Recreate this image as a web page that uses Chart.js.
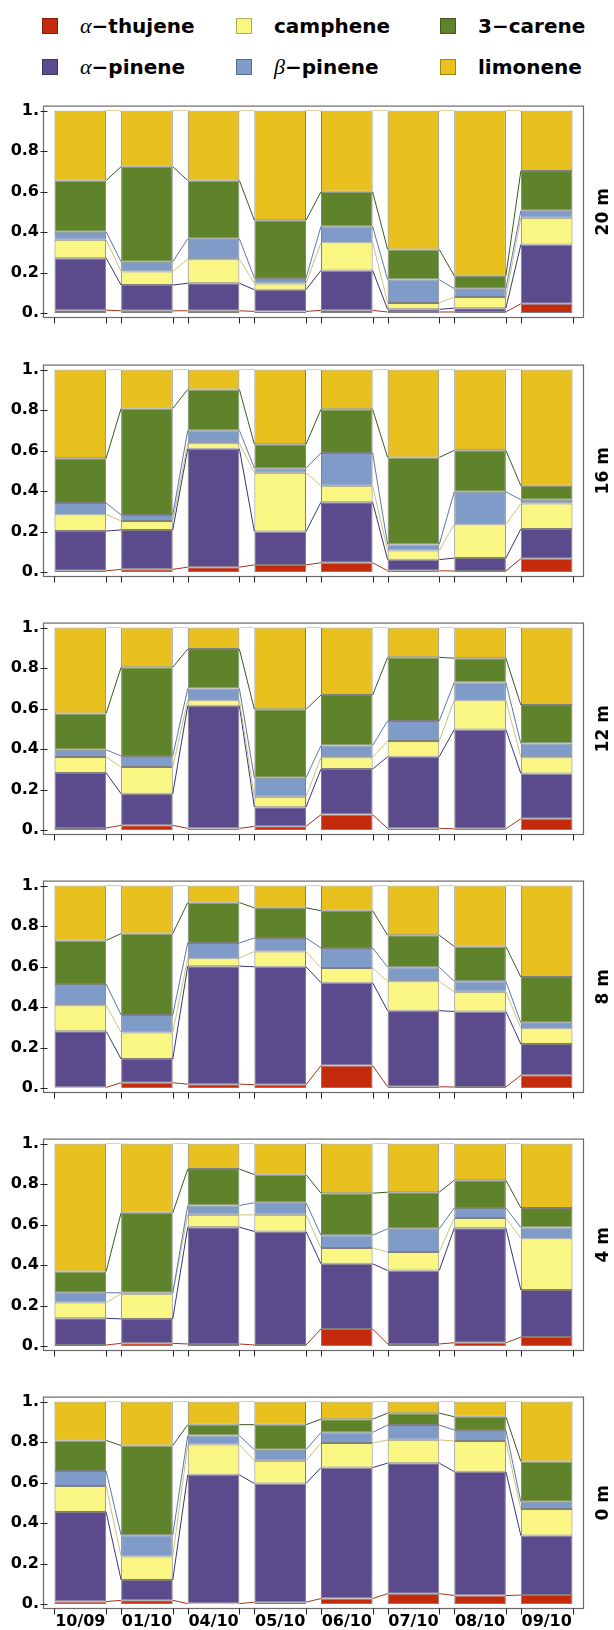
<!DOCTYPE html>
<html lang="en">
<head>
    <meta charset="UTF-8">
    <title>Monoterpene fractions by depth</title>
    <script src="https://cdn.jsdelivr.net/npm/chart.js"></script>
    <style>
        body { margin: 0; background: white; }
        #page { position: relative; width: 614px; height: 1630px; overflow: hidden; }
        #page canvas { position: absolute; left: 0; }
        .legend-item {
            position: absolute; height: 20px; display: flex; align-items: center;
            font-family: "DejaVu Sans", sans-serif; font-weight: bold; font-size: 20px;
            color: #000; white-space: nowrap;
        }
        .swatch { width: 16px; height: 16px; box-sizing: border-box; border: 1px solid rgba(0,0,0,.3); margin-right: 22px; }
        .greek { font-family: "Liberation Serif", serif; font-style: italic; font-weight: normal; font-size: 22px; }
    </style>
</head>
<body>
<div id="page"></div>

<script>
    // sampling dates and depths (panels top to bottom)
    const dates = ['10/09', '01/10', '04/10', '05/10', '06/10', '07/10', '08/10', '09/10'];
    const depths = ['20 m', '16 m', '12 m', '8 m', '4 m', '0 m'];
    const species = ['α−thujene', 'α−pinene', 'camphene', 'β−pinene', '3−carene', 'limonene'];
    const yTicks = [0, 0.2, 0.4, 0.6, 0.8, 1];

    // fractions, one row per depth (20 m first)
    const aThujene = [
        [0.014, 0.011, 0.011, 0.008, 0.013, 0.005, 0.005, 0.046],
        [0.006, 0.013, 0.024, 0.035, 0.046, 0.006, 0.005, 0.066],
        [0.010, 0.023, 0.008, 0.018, 0.076, 0.008, 0.006, 0.056],
        [0.003, 0.026, 0.019, 0.016, 0.111, 0.006, 0.005, 0.063],
        [0.005, 0.013, 0.010, 0.005, 0.084, 0.010, 0.016, 0.044],
        [0.012, 0.018, 0.002, 0.009, 0.027, 0.051, 0.042, 0.044]
    ];
    const aPinene = [
        [0.257, 0.127, 0.136, 0.107, 0.197, 0.013, 0.019, 0.292],
        [0.196, 0.195, 0.585, 0.165, 0.299, 0.055, 0.064, 0.146],
        [0.272, 0.156, 0.606, 0.095, 0.225, 0.354, 0.490, 0.223],
        [0.277, 0.117, 0.583, 0.583, 0.409, 0.376, 0.373, 0.154],
        [0.132, 0.121, 0.577, 0.561, 0.322, 0.363, 0.566, 0.233],
        [0.442, 0.101, 0.636, 0.586, 0.647, 0.645, 0.612, 0.294]
    ];
    const camphene = [
        [0.091, 0.067, 0.119, 0.031, 0.139, 0.032, 0.055, 0.132],
        [0.083, 0.044, 0.027, 0.290, 0.081, 0.045, 0.167, 0.126],
        [0.079, 0.132, 0.027, 0.051, 0.058, 0.078, 0.145, 0.080],
        [0.129, 0.131, 0.039, 0.076, 0.073, 0.145, 0.097, 0.078],
        [0.078, 0.124, 0.061, 0.082, 0.078, 0.092, 0.050, 0.255],
        [0.129, 0.116, 0.150, 0.113, 0.121, 0.115, 0.151, 0.131]
    ];
    const bPinene = [
        [0.040, 0.048, 0.101, 0.027, 0.079, 0.115, 0.041, 0.035],
        [0.056, 0.030, 0.064, 0.023, 0.162, 0.030, 0.160, 0.019],
        [0.035, 0.055, 0.058, 0.094, 0.058, 0.099, 0.088, 0.068],
        [0.105, 0.087, 0.076, 0.066, 0.099, 0.070, 0.052, 0.027],
        [0.048, 0.005, 0.046, 0.060, 0.063, 0.114, 0.050, 0.053],
        [0.074, 0.105, 0.044, 0.054, 0.053, 0.073, 0.055, 0.036]
    ];
    const carene = [
        [0.253, 0.470, 0.288, 0.285, 0.171, 0.149, 0.064, 0.197],
        [0.221, 0.526, 0.202, 0.118, 0.216, 0.430, 0.205, 0.069],
        [0.180, 0.438, 0.195, 0.338, 0.250, 0.314, 0.120, 0.190],
        [0.215, 0.402, 0.199, 0.149, 0.184, 0.158, 0.172, 0.226],
        [0.105, 0.395, 0.180, 0.139, 0.208, 0.181, 0.137, 0.097],
        [0.151, 0.443, 0.054, 0.124, 0.065, 0.059, 0.065, 0.199]
    ];
    const limonene = [
        [0.345, 0.277, 0.345, 0.542, 0.401, 0.686, 0.816, 0.298],
        [0.438, 0.192, 0.098, 0.369, 0.196, 0.434, 0.399, 0.574],
        [0.424, 0.196, 0.106, 0.404, 0.333, 0.147, 0.151, 0.383],
        [0.271, 0.237, 0.084, 0.110, 0.124, 0.245, 0.301, 0.452],
        [0.632, 0.342, 0.126, 0.153, 0.245, 0.240, 0.181, 0.318],
        [0.192, 0.217, 0.114, 0.114, 0.087, 0.057, 0.075, 0.296]
    ];
    const seriesData = [aThujene, aPinene, camphene, bPinene, carene, limonene];

    const fills = ['#c42a0c', '#5b4a8c', '#faf684', '#7f9bc8', '#5e832b', '#e8c11e'];
    const joinColors = ['#a8321c', '#3b3478', '#c8c47a', '#5d78a8', '#3d5a1e', '#d9cf9a'];

    const page = document.getElementById('page');
    const boldFont = '"DejaVu Sans", sans-serif';

    // legend, laid out column by column like the original
    const legendCols = [42, 236, 440];
    const legendRows = [26, 67];
    species.forEach((name, i) => {
        const item = document.createElement('div');
        item.className = 'legend-item';
        item.style.left = legendCols[Math.floor(i / 2)] + 'px';
        item.style.top = (legendRows[i % 2] - 10) + 'px';
        const sw = document.createElement('span');
        sw.className = 'swatch';
        sw.style.background = fills[i];
        item.appendChild(sw);
        const label = document.createElement('span');
        if (name[0] === 'α' || name[0] === 'β') {
            label.innerHTML = '<span class="greek">' + name[0] + '</span>' + name.slice(1);
        } else {
            label.textContent = name;
        }
        item.appendChild(label);
        page.appendChild(item);
    });

    // frame, joining lines, ticks and the depth label
    const panelDecor = {
        id: 'panelDecor',
        afterDatasetsDraw(chart, args, opts) {
            const ctx = chart.ctx;
            const a = chart.chartArea;
            ctx.save();

            chart.data.datasets.forEach((ds, di) => {
                const bars = chart.getDatasetMeta(di).data;
                ctx.strokeStyle = joinColors[di];
                ctx.lineWidth = 1;
                ctx.beginPath();
                for (let i = 0; i < bars.length - 1; i++) {
                    const p = bars[i], q = bars[i + 1];
                    ctx.moveTo(p.x + p.width / 2, p.y);
                    ctx.lineTo(q.x - q.width / 2, q.y);
                }
                ctx.stroke();
            });

            const fl = a.left - 3.5, fr = a.right + 3.5, ft = a.top - 4.5, fb = a.bottom + 4.5;
            ctx.strokeStyle = '#6a6a6a';
            ctx.lineWidth = 1.2;
            ctx.strokeRect(fl, ft, fr - fl, fb - ft);

            // y tick marks
            const ys = chart.scales.y;
            ctx.strokeStyle = '#222';
            ctx.lineWidth = 1;
            ctx.beginPath();
            yTicks.forEach(v => {
                const y = Math.round(ys.getPixelForValue(v)) + 0.5;
                ctx.moveTo(fl - 3, y);
                ctx.lineTo(fl + 4, y);
            });
            // tick marks at the bar edges below the frame
            chart.getDatasetMeta(0).data.forEach(b => {
                [b.x - b.width / 2, b.x + b.width / 2].forEach(x => {
                    x = Math.round(x) + 0.5;
                    ctx.moveTo(x, fb);
                    ctx.lineTo(x, fb + 6);
                });
            });
            ctx.stroke();

            // depth label on the right, reading upwards
            ctx.translate(a.right + 24, (a.top + a.bottom) / 2);
            ctx.rotate(-Math.PI / 2);
            ctx.fillStyle = '#000';
            ctx.font = 'bold 17px ' + boldFont;
            ctx.textAlign = 'center';
            ctx.textBaseline = 'middle';
            ctx.fillText(opts.label, 0, 0);
            ctx.restore();
        }
    };

    depths.forEach((depth, k) => {
        const last = k === depths.length - 1;
        const top = Math.round(109.3 + 258.2 * k) - 16;
        const h = last ? 1630 - top : 250;

        const canvas = document.createElement('canvas');
        canvas.width = 614;
        canvas.height = h;
        canvas.style.top = top + 'px';
        page.appendChild(canvas);

        new Chart(canvas, {
            type: 'bar',
            data: {
                labels: dates,
                datasets: species.map((name, i) => ({
                    label: name,
                    data: seriesData[i][k],
                    backgroundColor: fills[i],
                    borderColor: 'rgba(0,0,0,0.5)',
                    borderWidth: 1,
                    borderSkipped: false,
                    barPercentage: 0.775,
                    categoryPercentage: 1
                }))
            },
            options: {
                responsive: false,
                animation: false,
                devicePixelRatio: 1,
                layout: { padding: { top: 16, left: 0, right: 34, bottom: 0 } },
                plugins: {
                    legend: { display: false },
                    tooltip: { enabled: false },
                    panelDecor: { label: depth }
                },
                scales: {
                    x: {
                        stacked: true,
                        grid: { display: false, drawTicks: false },
                        border: { display: false },
                        ticks: {
                            display: last,
                            color: '#000',
                            padding: 8,
                            maxRotation: 0,
                            font: { family: boldFont, weight: 'bold', size: 16 }
                        },
                        afterFit: s => { s.height = h - 220; }
                    },
                    y: {
                        stacked: true,
                        min: 0,
                        max: 1,
                        grid: { display: false, drawTicks: false },
                        border: { display: false },
                        afterBuildTicks: s => { s.ticks = yTicks.map(v => ({ value: v })); },
                        ticks: {
                            color: '#000',
                            padding: 8,
                            font: { family: boldFont, weight: 'bold', size: 16 },
                            callback: v => (v === 0 ? '0.' : v === 1 ? '1.' : v.toFixed(1))
                        },
                        afterFit: s => { s.width = 47; }
                    }
                }
            },
            plugins: [panelDecor]
        });
    });
</script>
</body>
</html>
